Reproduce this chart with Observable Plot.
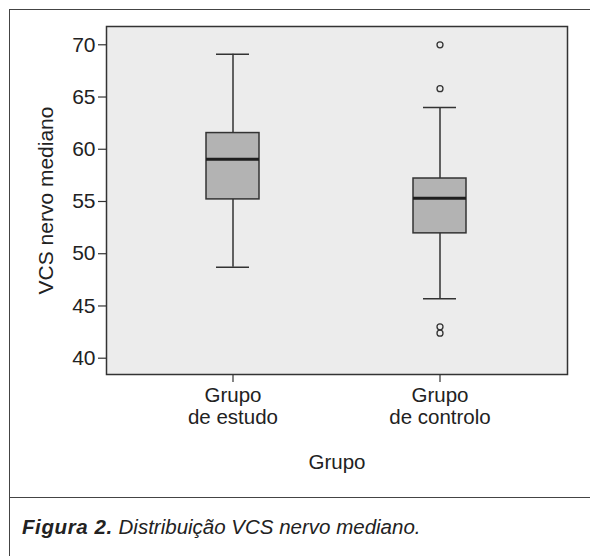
<!DOCTYPE html>
<html><head><meta charset="utf-8">
<script src="https://cdn.jsdelivr.net/npm/d3@7"></script>
<script src="https://cdn.jsdelivr.net/npm/@observablehq/plot@0.6"></script>
<style>
html,body{margin:0;padding:0;background:#fff;width:590px;height:556px;overflow:hidden;}
#wrap{position:relative;width:590px;height:556px;font-family:"Liberation Sans",Arial,Helvetica,sans-serif;}
#frame{position:absolute;left:9px;top:9px;width:620px;height:620px;border-top:1.5px solid #444;border-left:1.5px solid #444;box-sizing:border-box;}
#sep{position:absolute;left:9px;top:497px;width:620px;height:0;border-top:1.5px solid #444;}
#chart{position:absolute;left:0;top:0;}
#caption{position:absolute;left:22px;top:515px;font-size:20.5px;line-height:24px;font-style:italic;color:#222;white-space:nowrap;}
#caption b{letter-spacing:0.6px;}
</style>
</head>
<body>
<div id="wrap">
  <div id="frame"></div>
  <div id="sep"></div>
  <div id="chart"></div>
  <div id="caption"><b>Figura 2.</b> Distribuição VCS nervo mediano.</div>
</div>
<script>
const groups = ["Grupo de estudo", "Grupo de controlo"];
const whiskerLow = [48.7, 45.7];
const q1 = [55.2, 51.95];
const median = [59.05, 55.3];
const q3 = [61.55, 57.2];
const whiskerHigh = [69.1, 64.0];
const outlierGroups = ["Grupo de controlo", "Grupo de controlo", "Grupo de controlo", "Grupo de controlo"];
const outlierValues = [70.0, 65.8, 43.0, 42.4];
const yTicks = [40, 45, 50, 55, 60, 65, 70];

const boxes = groups.map((g, i) => ({group: g, lo: whiskerLow[i], q1: q1[i], med: median[i], q3: q3[i], hi: whiskerHigh[i]}));
const outliers = outlierValues.map((v, i) => ({group: outlierGroups[i], value: v}));

const ink = "#333";
const chart = Plot.plot({
  width: 590,
  height: 498,
  marginLeft: 106,
  marginTop: 26,
  marginRight: 23,
  marginBottom: 124,
  style: {fontFamily: '"Liberation Sans", Arial, Helvetica, sans-serif', fontSize: "21px", color: "#222", background: "transparent"},
  x: {type: "band", domain: groups, paddingInner: 0.7434, paddingOuter: 0.4815, align: 0.5},
  y: {domain: [38.44, 71.75]},
  marks: [
    Plot.frame({fill: "#ececec", stroke: null}),
    Plot.axisY({ticks: yTicks, tickSize: 8, tickPadding: 3, stroke: ink, strokeWidth: 1.2, fontSize: 21,
      label: "VCS nervo mediano", labelAnchor: "center", labelArrow: "none", labelOffset: 68}),
    Plot.axisX({tickSize: 8, tickPadding: 3, stroke: ink, strokeWidth: 1.2, lineHeight: 1.1, fontSize: 20.5,
      tickFormat: d => d.replace("Grupo ", "Grupo\n"),
      label: "Grupo", labelAnchor: "center", labelArrow: "none", labelOffset: 94}),
    Plot.ruleX(boxes, {x: "group", y1: "lo", y2: "q1", stroke: ink, strokeWidth: 1.5}),
    Plot.ruleX(boxes, {x: "group", y1: "q3", y2: "hi", stroke: ink, strokeWidth: 1.5}),
    Plot.tickY(boxes, {x: "group", y: "lo", insetLeft: 10, insetRight: 10, stroke: ink, strokeWidth: 1.5}),
    Plot.tickY(boxes, {x: "group", y: "hi", insetLeft: 10, insetRight: 10, stroke: ink, strokeWidth: 1.5}),
    Plot.barY(boxes, {x: "group", y1: "q1", y2: "q3", fill: "#b3b3b3", stroke: ink, strokeWidth: 1.5}),
    Plot.tickY(boxes, {x: "group", y: "med", stroke: "#1e1e1e", strokeWidth: 3}),
    Plot.dot(outliers, {x: "group", y: "value", r: 3, fill: "none", stroke: ink, strokeWidth: 1.3}),
    Plot.frame({stroke: ink, strokeWidth: 1.5})
  ]
});
document.getElementById("chart").appendChild(chart);
</script>
</body></html>
